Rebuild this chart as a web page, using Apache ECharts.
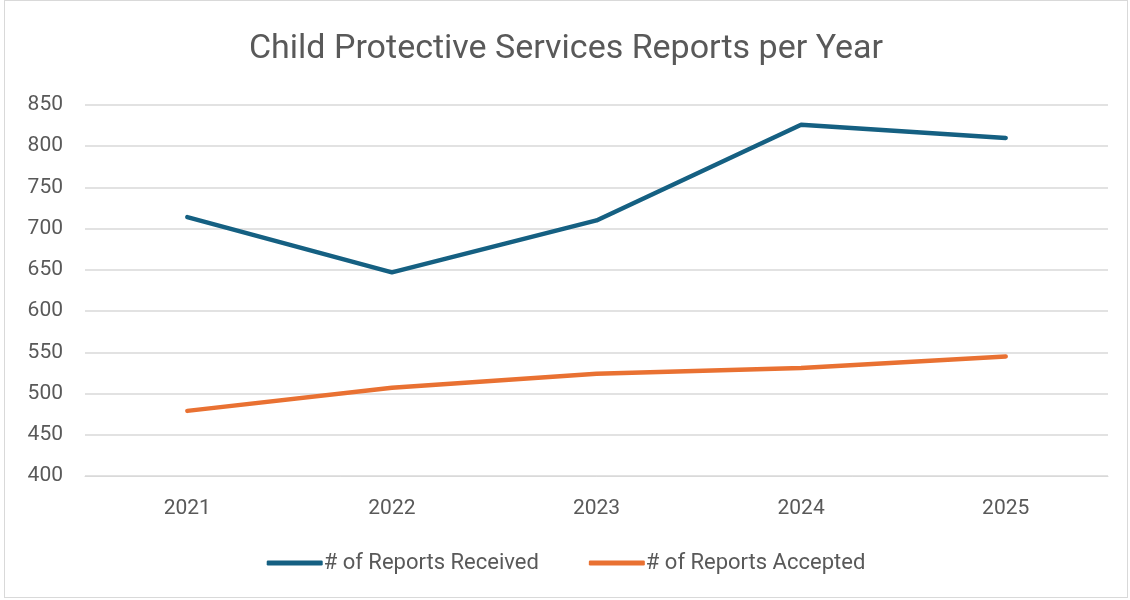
<!DOCTYPE html>
<html>
<head>
<meta charset="utf-8">
<script src="https://cdn.jsdelivr.net/npm/echarts@6/dist/echarts.min.js"></script>
<style>
  html, body { margin: 0; padding: 0; background: #fff; }
  #chart { position: absolute; left: 4px; top: 0; width: 1124px; height: 598px; border: 1px solid #d9d9d9; box-sizing: border-box; }
</style>
</head>
<body>
<div id="chart"></div>
<script>
// data
const years = ['2021', '2022', '2023', '2024', '2025'];
const received = [714, 647, 710, 826, 810];
const accepted = [479, 507, 524, 531, 545];

const textColor = '#595959';
const font = 'Roboto';

const myChart = echarts.init(document.getElementById('chart'));

const option = {
    animation: false,
    title: {
        text: 'Child Protective Services Reports per Year',
        left: 'center',
        top: 26,
        textStyle: { fontFamily: font, fontSize: 34, fontWeight: 'normal', color: textColor }
    },
    legend: {
        bottom: 18,
        left: 'center',
        icon: 'roundRect',
        itemWidth: 56,
        itemHeight: 5,
        itemGap: 50,
        textStyle: { fontFamily: font, fontSize: 22, color: textColor, padding: [0, 0, 0, -4] },
        data: ['# of Reports Received', '# of Reports Accepted']
    },
    grid: { left: 80, right: 19, top: 104, bottom: 121 },
    xAxis: {
        type: 'category',
        data: years,
        axisLine: { lineStyle: { color: '#d9d9d9', width: 1 } },
        axisTick: { show: false },
        axisLabel: { fontFamily: font, fontSize: 21, color: textColor, margin: 22 }
    },
    yAxis: {
        type: 'value',
        min: 400,
        max: 850,
        interval: 50,
        axisLine: { show: false },
        axisTick: { show: false },
        splitLine: { lineStyle: { color: '#d9d9d9', width: 1.5 } },
        axisLabel: { fontFamily: font, fontSize: 21, color: textColor, margin: 22 }
    },
    series: [
        {
            name: '# of Reports Received',
            type: 'line',
            data: received,
            symbol: 'none',
            color: '#156082',
            lineStyle: { width: 4.5, cap: 'round', join: 'round' }
        },
        {
            name: '# of Reports Accepted',
            type: 'line',
            data: accepted,
            symbol: 'none',
            color: '#E97132',
            lineStyle: { width: 4.5, cap: 'round', join: 'round' }
        }
    ]
};

myChart.setOption(option);
</script>
</body>
</html>
